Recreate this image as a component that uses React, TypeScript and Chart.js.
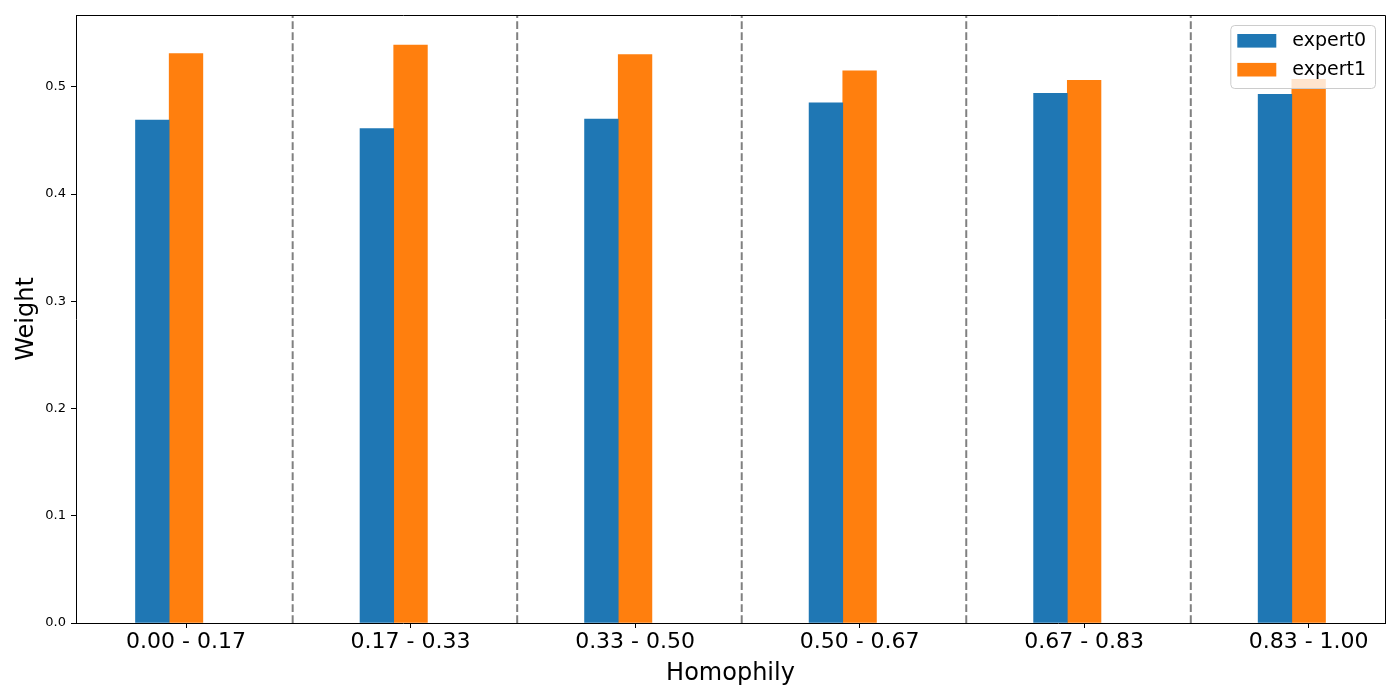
import React, { useEffect, useRef } from 'react';
import { Chart, registerables } from 'chart.js';

Chart.register(...registerables);

const categories = ['0.00 - 0.17', '0.17 - 0.33', '0.33 - 0.50', '0.50 - 0.67', '0.67 - 0.83', '0.83 - 1.00'];
const expert0 = [0.469, 0.461, 0.470, 0.485, 0.494, 0.493];
const expert1 = [0.531, 0.539, 0.530, 0.515, 0.506, 0.507];
const yTicks = [0, 0.1, 0.2, 0.3, 0.4, 0.5];
const seriesNames = ['expert0', 'expert1'];

const BAR_W = 0.15; // bar width in x units
const SEP_OFFSET = 0.475; // dashed separators after each group
const FONT = "'DejaVu Sans', sans-serif";

// dashed gray separators between the groups
const separators = {
  id: 'separators',
  beforeDatasetsDraw(chart: any) {
    const { ctx, chartArea, scales } = chart;
    ctx.save();
    ctx.strokeStyle = '#808080';
    ctx.lineWidth = 2;
    ctx.setLineDash([7.7, 3.3]);
    for (let i = 0; i < categories.length - 1; i++) {
      const x = scales.x.getPixelForValue(i + SEP_OFFSET);
      ctx.beginPath();
      ctx.moveTo(x, chartArea.bottom);
      ctx.lineTo(x, chartArea.top);
      ctx.stroke();
    }
    ctx.restore();
  },
};

// top and right spines
const frame = {
  id: 'frame',
  afterDatasetsDraw(chart: any) {
    const { ctx, chartArea } = chart;
    ctx.save();
    ctx.strokeStyle = '#000';
    ctx.lineWidth = 1;
    ctx.beginPath();
    ctx.moveTo(chartArea.left, chartArea.top + 0.5);
    ctx.lineTo(chartArea.right + 0.5, chartArea.top + 0.5);
    ctx.lineTo(chartArea.right + 0.5, chartArea.bottom);
    ctx.stroke();
    ctx.restore();
  },
};

// matplotlib style legend in the upper right corner
const boxLegend = {
  id: 'boxLegend',
  afterDraw(chart: any) {
    const { ctx, chartArea } = chart;
    const fs = 19;
    ctx.save();
    ctx.font = `${fs}px ${FONT}`;
    const sets = chart.data.datasets;
    const textW = Math.max(...sets.map((d: any) => ctx.measureText(d.label).width));
    const w = 7 + 39 + 16 + textW + 9;
    const h = 63;
    const right = chartArea.right - 10;
    const left = right - w;
    const top = chartArea.top + 10;
    ctx.beginPath();
    ctx.roundRect(left + 0.5, top + 0.5, w, h, 4);
    ctx.fillStyle = 'rgba(255,255,255,0.8)';
    ctx.fill();
    ctx.strokeStyle = '#cccccc';
    ctx.lineWidth = 1;
    ctx.stroke();
    sets.forEach((d: any, i: number) => {
      const cy = top + 15.8 + i * 28.9;
      ctx.fillStyle = d.backgroundColor;
      ctx.fillRect(left + 7, cy - 6.8, 39, 13.6);
      ctx.fillStyle = '#000';
      ctx.textBaseline = 'middle';
      ctx.textAlign = 'left';
      ctx.fillText(d.label, left + 62, cy);
    });
    ctx.restore();
  },
};

export default function App() {
  const chartRef = useRef<HTMLCanvasElement>(null);
  const chartInstance = useRef<Chart | null>(null);

  useEffect(() => {
    if (!chartRef.current) return;
    if (chartInstance.current) chartInstance.current.destroy();
    const ctx = chartRef.current.getContext('2d');
    if (!ctx) return;

    chartInstance.current = new Chart(ctx, {
      type: 'bar',
      data: {
        datasets: [
          {
            label: seriesNames[0],
            data: expert0.map((v, i) => ({ x: i - BAR_W, y: v })),
            backgroundColor: '#1f77b4',
            borderWidth: 0,
            grouped: false,
            categoryPercentage: 1,
            barPercentage: 1,
          },
          {
            label: seriesNames[1],
            data: expert1.map((v, i) => ({ x: i, y: v })),
            backgroundColor: '#ff7f0e',
            borderWidth: 0,
            grouped: false,
            categoryPercentage: 1,
            barPercentage: 1,
          },
        ] as any,
      },
      options: {
        animation: false,
        responsive: false,
        layout: { padding: { top: 15, right: 15, left: 0, bottom: 0 } },
        plugins: { legend: { display: false }, tooltip: { enabled: false } },
        scales: {
          x: {
            type: 'linear',
            min: -0.49,
            max: 5.34,
            offset: false,
            afterBuildTicks: (s: any) => {
              s.ticks = categories.map((_, i) => ({ value: i }));
            },
            afterFit: (s: any) => {
              s.height = 77;
            },
            ticks: {
              callback: (_v: any, i: number) => categories[i],
              color: '#000',
              font: { family: FONT, size: 22 },
              padding: 1,
              maxRotation: 0,
              autoSkip: false,
            },
            grid: { drawOnChartArea: false, offset: false, tickLength: 5, color: '#000' },
            border: { color: '#000' },
            title: {
              display: true,
              text: 'Homophily',
              color: '#000',
              font: { family: FONT, size: 24 },
              padding: { top: 0, bottom: 12 },
            },
          },
          y: {
            min: 0,
            max: 0.567,
            afterBuildTicks: (s: any) => {
              s.ticks = yTicks.map((v) => ({ value: v }));
            },
            afterFit: (s: any) => {
              s.width = 76;
            },
            ticks: {
              callback: (v: any) => Number(v).toFixed(1),
              color: '#000',
              font: { family: FONT, size: 13 },
              padding: 5,
            },
            grid: { drawOnChartArea: false, tickLength: 5, color: '#000' },
            border: { color: '#000' },
            title: {
              display: true,
              text: 'Weight',
              color: '#000',
              font: { family: FONT, size: 24 },
              padding: { top: 12, bottom: 0 },
            },
          },
        },
      } as any,
      plugins: [separators, frame, boxLegend],
    });

    return () => {
      if (chartInstance.current) {
        chartInstance.current.destroy();
        chartInstance.current = null;
      }
    };
  }, []);

  return (
    <div style={{ position: 'absolute', left: 0, top: 0, width: 1400, height: 700, background: '#fff' }}>
      <canvas ref={chartRef} width={1400} height={700} style={{ display: 'block' }} />
    </div>
  );
}
